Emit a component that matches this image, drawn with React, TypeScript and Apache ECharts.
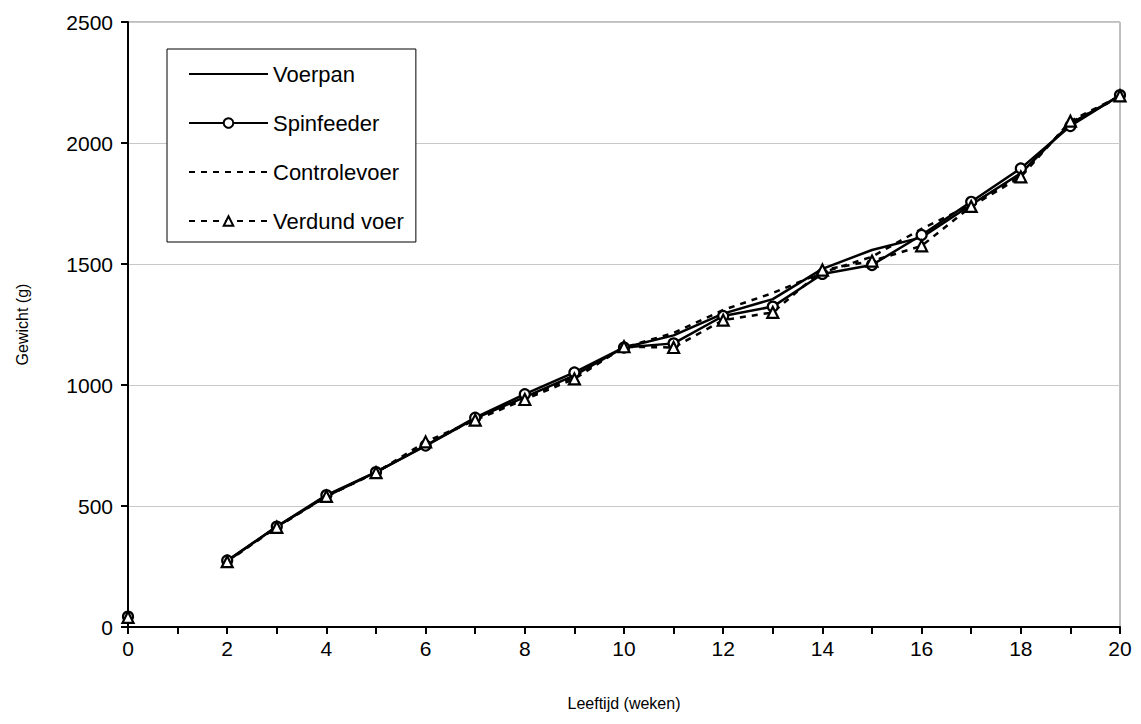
import React, { useEffect, useRef } from "react";
import * as echarts from "echarts";

// Week 1 was not measured: null breaks the line there.
const weeks = [0, 1, 2, 3, 4, 5, 6, 7, 8, 9, 10, 11, 12, 13, 14, 15, 16, 17, 18, 19, 20];
const voerpan = [42, null, 272, 415, 540, 640, 748, 862, 950, 1040, 1155, 1205, 1295, 1355, 1480, 1558, 1610, 1745, 1875, 2080, 2195];
const spinfeeder = [43, null, 275, 415, 545, 640, 750, 865, 962, 1052, 1155, 1172, 1285, 1324, 1459, 1496, 1620, 1757, 1895, 2070, 2198];
const controlevoer = [40, null, 272, 414, 540, 640, 752, 860, 945, 1035, 1155, 1215, 1310, 1380, 1465, 1530, 1645, 1745, 1870, 2085, 2190];
const verdundVoer = [40, null, 270, 412, 540, 638, 765, 855, 940, 1025, 1158, 1155, 1268, 1300, 1475, 1512, 1575, 1738, 1860, 2090, 2195];
const yTicks = [0, 500, 1000, 1500, 2000, 2500];

const FONT = "'Liberation Sans', Arial, sans-serif";

function pairs(vals: (number | null)[]) {
  return weeks.map((w, i) => [w, vals[i] === null ? "-" : vals[i]]);
}

export default function App() {
  const ref = useRef<HTMLDivElement>(null);
  useEffect(() => {
    if (!ref.current) return;
    const chart = echarts.init(ref.current, undefined, { renderer: "svg" });
    const lineBase = { width: 2.5, color: "#000" };
    const dash = [6, 6];
    const hidden = { opacity: 0 };
    chart.setOption({
      animation: false,
      backgroundColor: "#fff",
      textStyle: { fontFamily: FONT, color: "#000" },
      grid: {
        left: 128,
        right: 21,
        top: 22,
        bottom: 97,
        show: true,
        borderColor: "#808080",
        borderWidth: 1,
        backgroundColor: "transparent",
      },
      legend: {
        orient: "vertical",
        left: 167,
        top: 49,
        padding: [13, 12, 9, 21],
        itemWidth: 79,
        itemHeight: 12,
        itemGap: 25,
        backgroundColor: "#fff",
        borderColor: "#000",
        borderWidth: 1,
        borderRadius: 0,
        textStyle: { fontFamily: FONT, fontSize: 22, color: "#000", lineHeight: 24 },
        data: [
          { name: "Voerpan", itemStyle: hidden },
          { name: "Spinfeeder" },
          { name: "Controlevoer", itemStyle: hidden },
          { name: "Verdund voer" },
        ],
      },
      xAxis: {
        type: "value",
        min: 0,
        max: 20,
        interval: 1,
        name: "Leeftijd (weken)",
        nameLocation: "middle",
        nameGap: 68,
        nameTextStyle: { fontFamily: FONT, fontSize: 16, color: "#000" },
        axisLine: { show: true, onZero: false, lineStyle: { color: "#000", width: 2 } },
        axisTick: { show: true, inside: false, length: 7, lineStyle: { color: "#000", width: 2 } },
        axisLabel: {
          fontFamily: FONT,
          fontSize: 21,
          color: "#000",
          margin: 11,
          formatter: (v: number) => (v % 2 === 0 ? String(v) : ""),
        },
        splitLine: { show: false },
      },
      yAxis: {
        type: "value",
        min: yTicks[0],
        max: yTicks[yTicks.length - 1],
        interval: 500,
        name: "Gewicht (g)",
        nameLocation: "middle",
        nameGap: 98,
        nameRotate: 90,
        nameTextStyle: { fontFamily: FONT, fontSize: 16, color: "#000" },
        axisLine: { show: true, onZero: false, lineStyle: { color: "#000", width: 2 } },
        axisTick: { show: true, inside: false, length: 7, lineStyle: { color: "#000", width: 2 } },
        axisLabel: {
          fontFamily: FONT,
          fontSize: 21,
          color: "#000",
          margin: 15,
          formatter: (v: number) => String(v),
        },
        splitLine: { show: true, lineStyle: { color: "#c8c8c8", width: 1 } },
      },
      series: [
        {
          name: "Voerpan",
          type: "line",
          data: pairs(voerpan),
          symbol: "none",
          lineStyle: { ...lineBase },
          itemStyle: { color: "#000" },
          z: 3,
        },
        {
          name: "Spinfeeder",
          type: "line",
          data: pairs(spinfeeder),
          symbol: "circle",
          symbolSize: 10,
          lineStyle: { ...lineBase },
          itemStyle: { color: "#fff", borderColor: "#000", borderWidth: 2.2 },
          z: 4,
        },
        {
          name: "Controlevoer",
          type: "line",
          data: pairs(controlevoer),
          symbol: "none",
          lineStyle: { ...lineBase, type: dash },
          itemStyle: { color: "#000" },
          z: 3,
        },
        {
          name: "Verdund voer",
          type: "line",
          data: pairs(verdundVoer),
          symbol: "triangle",
          symbolSize: 11,
          lineStyle: { ...lineBase, type: dash },
          itemStyle: { color: "#fff", borderColor: "#000", borderWidth: 2.2 },
          z: 4,
        },
      ],
    });
    return () => chart.dispose();
  }, []);
  return (
    <div
      ref={ref}
      style={{ position: "absolute", left: 0, top: 0, width: 1141, height: 724 }}
    />
  );
}
